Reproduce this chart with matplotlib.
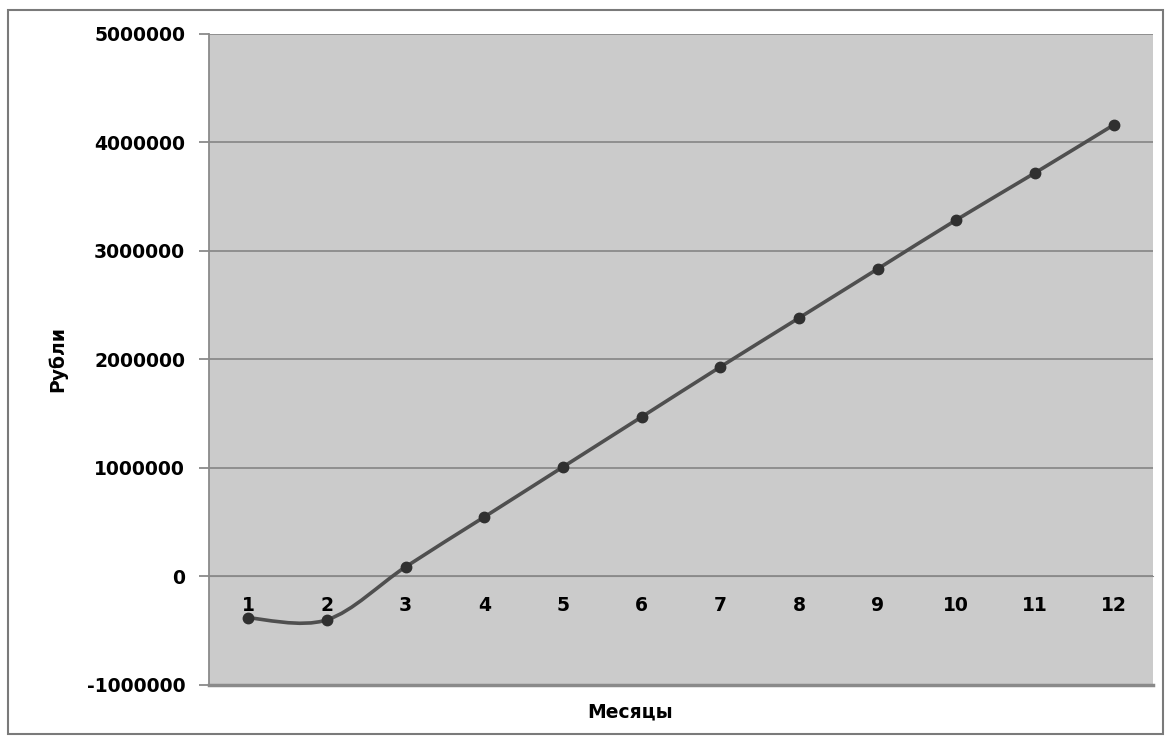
import numpy as np
import matplotlib
matplotlib.use('Agg')
import matplotlib.pyplot as plt
from matplotlib.path import Path
from matplotlib.patches import PathPatch, Rectangle

months = list(range(1, 13))
rubles = [-382000, -400000, 88000, 548000, 1009000, 1470000,
          1931000, 2382000, 2834000, 3286000, 3719000, 4161000]
yticks = [-1000000, 0, 1000000, 2000000, 3000000, 4000000, 5000000]

plt.rcParams['font.family'] = ['DejaVu Sans']
plt.rcParams['font.weight'] = 'bold'

fig = plt.figure(figsize=(11.67, 7.37), dpi=100)
ax = fig.add_axes([0.179, 0.0706, 0.809, 0.8834])
ax.set_facecolor('#cbcbcb')

# smoothed line, Excel-style bezier through every point
x = np.array(months, float)
y = np.array(rubles, float)
verts = [(x[0], y[0])]
codes = [Path.MOVETO]
for i in range(len(x) - 1):
    p0 = (x[max(i - 1, 0)], y[max(i - 1, 0)])
    p1 = (x[i], y[i])
    p2 = (x[i + 1], y[i + 1])
    p3 = (x[min(i + 2, len(x) - 1)], y[min(i + 2, len(x) - 1)])
    c1 = (p1[0] + (p2[0] - p0[0]) / 6, p1[1] + (p2[1] - p0[1]) / 6)
    c2 = (p2[0] - (p3[0] - p1[0]) / 6, p2[1] - (p3[1] - p1[1]) / 6)
    verts += [c1, c2, p2]
    codes += [Path.CURVE4] * 3
ax.add_patch(PathPatch(Path(verts, codes), fill=False, edgecolor='#4f4f4f',
                       lw=2.6, zorder=3))
ax.plot(months, rubles, ls='none', marker='o', ms=7.5, color='#303030', zorder=4)

# category axis sits on the zero line
ax.spines['bottom'].set_position(('data', 0))
ax.spines['bottom'].set_color('#8a8a8a')

ax.set_xlim(0.5, 12.5)
ax.set_ylim(-1000000, 5000000)
ax.set_yticks(yticks)
ax.set_yticklabels([str(v) for v in yticks], fontsize=13.5, fontweight='bold')
ax.yaxis.grid(True, color='#8a8a8a', lw=1.3)
ax.set_axisbelow(True)

ax.set_xticks(months)
ax.set_xticklabels([str(m) for m in months], fontsize=13.5, fontweight='bold')
ax.tick_params(axis='x', length=0, pad=14)
ax.tick_params(axis='y', length=7, color='#8a8a8a', width=1.3, pad=10)
ax.spines['top'].set_visible(False)
ax.spines['right'].set_visible(False)
ax.spines['left'].set_color('#8a8a8a')
ax.spines['left'].set_linewidth(1.3)
ax.axhline(-1000000, color='#8a8a8a', lw=2.5, clip_on=False)

ax.set_ylabel('Рубли', fontsize=13.5, fontweight='bold', labelpad=14)
fig.text(0.54, 0.027, 'Месяцы', fontsize=13.5, fontweight='bold', ha='center')

fig.patches.append(Rectangle((0.007, 0.004), 0.99, 0.983, transform=fig.transFigure,
                             fill=False, edgecolor='#7a7a7a', lw=1.5))

fig.savefig('out.png', dpi=100)
